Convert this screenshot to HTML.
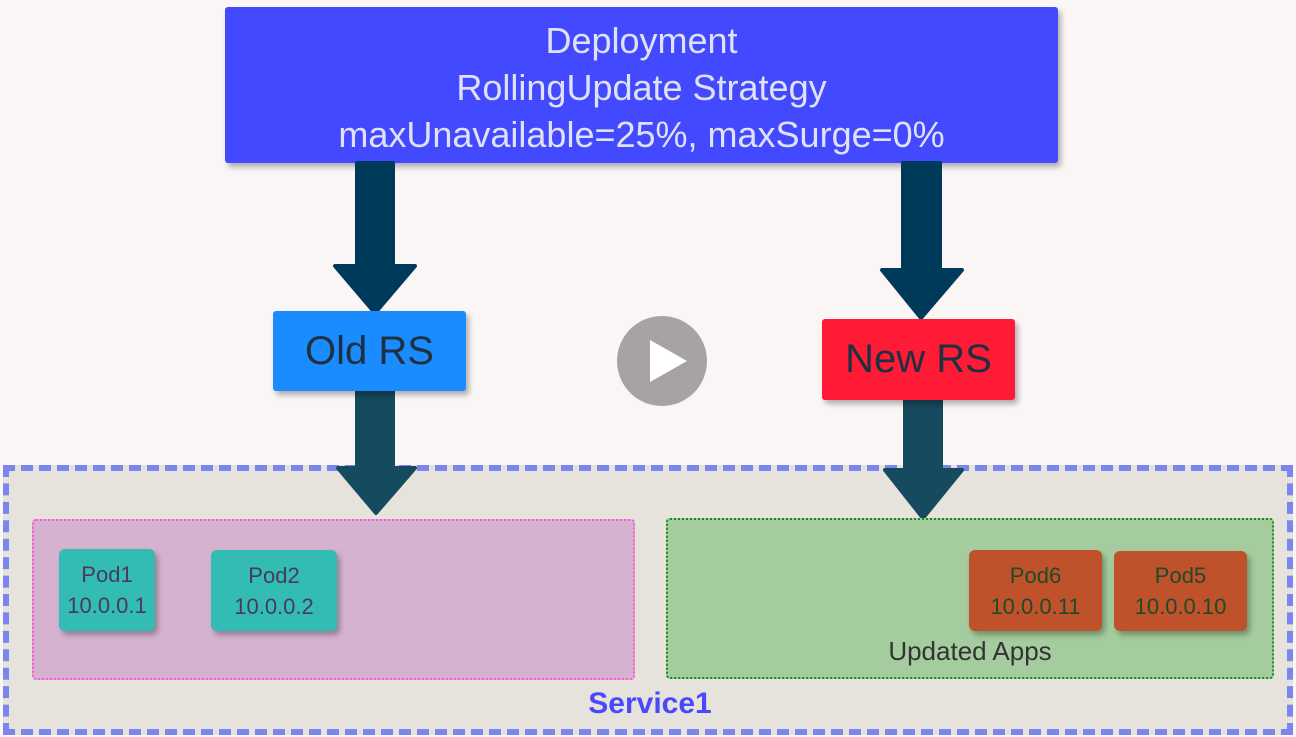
<!DOCTYPE html>
<html><head><style>
body{margin:0;width:1296px;height:737px;background:#fbf6f6;position:relative;overflow:hidden;font-family:"Liberation Sans",sans-serif}
.a{position:absolute;box-sizing:border-box}
.c{display:flex;align-items:center;justify-content:center;text-align:center}
.sh{box-shadow:3px 4px 6px rgba(0,0,0,.3)}
.pod{border-radius:6px;font-size:22px;line-height:31px;flex-direction:column}
</style></head><body>
<div class="a" style="left:3px;top:465px;width:1290px;height:270px;background:#e6e3dc;border:6px dashed #7b85ee"></div>
<div class="a c sh" style="left:225px;top:7px;width:833px;height:156px;padding-top:5px;background:#4349ff;color:#dfe1f5;font-size:36px;line-height:47px;border-radius:3px">Deployment<br>RollingUpdate Strategy<br>maxUnavailable=25%, maxSurge=0%</div>
<svg class="a" style="left:0;top:0" width="1296" height="737">
<g fill="#003a5a" stroke="#003a5a" stroke-linejoin="round" stroke-width="4">
<rect x="357" y="163" width="36" height="105"/><polygon points="335,266 415,266 375,313"/>
<rect x="903" y="163" width="37" height="108"/><polygon points="882,270 962,270 921,318"/>
</g>
<g fill="#164a5e" stroke="#164a5e" stroke-linejoin="round" stroke-width="4">
<rect x="357" y="391" width="36" height="80"/><polygon points="338,468 415,468 376,513"/>
<rect x="905" y="400" width="36" height="72"/><polygon points="885,470 962,470 923,518"/>
</g>
<circle cx="662" cy="361" r="45" fill="#a8a3a3"/>
<polygon points="650,340 650,382 687,361" fill="#fff"/>
</svg>
<div class="a c sh" style="left:273px;top:311px;width:193px;height:80px;background:#1a8cff;color:#1f3040;font-size:40px;border-radius:3px">Old RS</div>
<div class="a c sh" style="left:822px;top:319px;width:193px;height:81px;background:#ff1a35;color:#1f3040;font-size:40px;border-radius:3px">New RS</div>
<div class="a" style="left:32px;top:519px;width:603px;height:161px;background:#d5b3d0;border:2px dotted #ff55dd;border-radius:4px"></div>
<div class="a" style="left:666px;top:518px;width:608px;height:161px;background:#a5cc9e;border:2px dotted #1a8a1a;border-radius:4px"></div>
<div class="a c pod sh" style="left:59px;top:549px;width:96px;height:82px;background:#33bcb3;color:#4a3a5a">Pod1<br>10.0.0.1</div>
<div class="a c pod sh" style="left:211px;top:550px;width:126px;height:81px;background:#33bcb3;color:#4a3a5a">Pod2<br>10.0.0.2</div>
<div class="a c pod sh" style="left:969px;top:550px;width:133px;height:81px;background:#c0522b;color:#1f4a2a">Pod6<br>10.0.0.11</div>
<div class="a c pod sh" style="left:1114px;top:551px;width:133px;height:80px;background:#c0522b;color:#1f4a2a">Pod5<br>10.0.0.10</div>
<div class="a" style="left:850px;top:636px;width:240px;text-align:center;font-size:26px;color:#333">Updated Apps</div>
<div class="a" style="left:550px;top:687px;width:200px;text-align:center;font-size:30px;font-weight:bold;color:#4848ff">Service1</div>
</body></html>
